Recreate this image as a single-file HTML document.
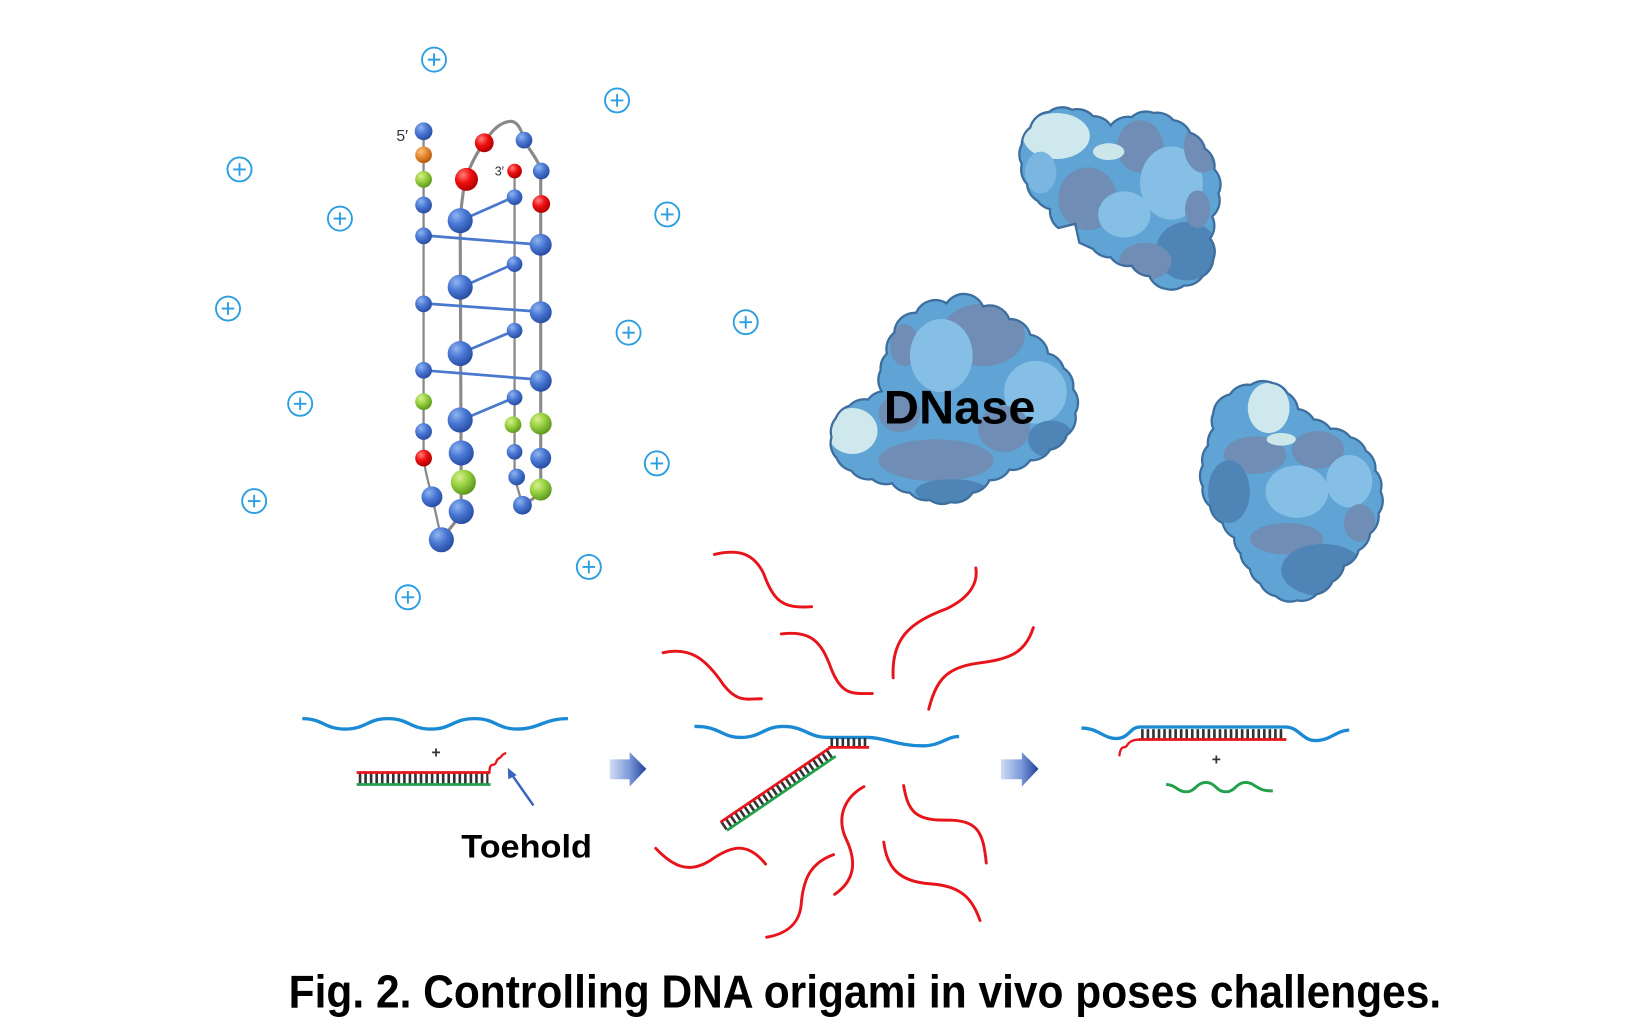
<!DOCTYPE html>
<html><head><meta charset="utf-8">
<style>
html,body{margin:0;padding:0;background:#fff;}
svg{display:block;}
</style></head>
<body>
<svg width="1641" height="1034" viewBox="0 0 1569 988.5" preserveAspectRatio="none" xmlns="http://www.w3.org/2000/svg">
<defs>
<radialGradient id="gb" cx="35%" cy="30%" r="70%"><stop offset="0" stop-color="#8fb4f0"/><stop offset="0.5" stop-color="#4a78d4"/><stop offset="1" stop-color="#2a4fa6"/></radialGradient>
<radialGradient id="gr" cx="35%" cy="30%" r="70%"><stop offset="0" stop-color="#ff8080"/><stop offset="0.5" stop-color="#f01010"/><stop offset="1" stop-color="#b00000"/></radialGradient>
<radialGradient id="gg" cx="35%" cy="30%" r="70%"><stop offset="0" stop-color="#d8f090"/><stop offset="0.5" stop-color="#98d040"/><stop offset="1" stop-color="#5f9a20"/></radialGradient>
<radialGradient id="go" cx="35%" cy="30%" r="70%"><stop offset="0" stop-color="#f8c080"/><stop offset="0.5" stop-color="#e88a30"/><stop offset="1" stop-color="#b85a10"/></radialGradient>
<linearGradient id="ga" x1="0" y1="0" x2="1" y2="0"><stop offset="0" stop-color="#d0dcf4"/><stop offset="0.55" stop-color="#7a98d8"/><stop offset="1" stop-color="#1f3f98"/></linearGradient>
<clipPath id="c1"><path id="p1" d="M985,122 A20,20 0 0 1 1003,107 A20,20 0 0 1 1025,105 A20,20 0 0 1 1045,111 A20,20 0 0 1 1062,120 A20,20 0 0 1 1082,112 A20,20 0 0 1 1103,108 A20,20 0 0 1 1122,115 A20,20 0 0 1 1138,127 A20,20 0 0 1 1152,142 A20,20 0 0 1 1161,162 A20,20 0 0 1 1165,185 A20,20 0 0 1 1159,207 A20,20 0 0 1 1157,228 A20,20 0 0 1 1160,248 A20,20 0 0 1 1150,264 A20,20 0 0 1 1132,273 A20,20 0 0 1 1114,276 A20,20 0 0 1 1099,264 A20,20 0 0 1 1082,254 A20,20 0 0 1 1062,246 A20,20 0 0 1 1045,238 L1032,232 L1028,214 L1012,218 A20,20 0 0 1 1004,200 A20,20 0 0 1 992,192 A20,20 0 0 1 982,176 A20,20 0 0 1 977,157 A20,20 0 0 1 977,138 A20,20 0 0 1 985,122 Z"/></clipPath>
<clipPath id="c2"><path id="p2" d="M855,318 A20,20 0 0 1 876,299 A20,20 0 0 1 905,290 A20,20 0 0 1 940,293 A20,20 0 0 1 965,305 A20,20 0 0 1 985,320 A20,20 0 0 1 1002,338 A20,20 0 0 1 1017,352 A20,20 0 0 1 1026,372 A20,20 0 0 1 1028,395 A20,20 0 0 1 1020,416 A20,20 0 0 1 1004,430 A20,20 0 0 1 985,440 A20,20 0 0 1 965,449 A20,20 0 0 1 946,459 A20,20 0 0 1 930,471 A20,20 0 0 1 909,480 A20,20 0 0 1 889,478 A20,20 0 0 1 870,471 A20,20 0 0 1 853,462 A20,20 0 0 1 834,458 A20,20 0 0 1 814,450 A20,20 0 0 1 800,438 A20,20 0 0 1 795,418 A20,20 0 0 1 799,400 A20,20 0 0 1 812,388 A20,20 0 0 1 830,382 A20,20 0 0 1 843,374 A20,20 0 0 1 842,354 A20,20 0 0 1 848,338 A20,20 0 0 1 855,318 Z"/></clipPath>
<clipPath id="c3"><path id="p3" d="M1160,395 A20,20 0 0 1 1176,377 A20,20 0 0 1 1196,368 A20,20 0 0 1 1216,366 A20,20 0 0 1 1231,376 A20,20 0 0 1 1241,391 A20,20 0 0 1 1256,401 A20,20 0 0 1 1272,410 A20,20 0 0 1 1291,418 A20,20 0 0 1 1306,431 A20,20 0 0 1 1315,450 A20,20 0 0 1 1320,470 A20,20 0 0 1 1318,491 A20,20 0 0 1 1310,510 A20,20 0 0 1 1299,526 A20,20 0 0 1 1285,541 A20,20 0 0 1 1274,556 A20,20 0 0 1 1259,568 A20,20 0 0 1 1240,574 A20,20 0 0 1 1220,570 A20,20 0 0 1 1205,558 A20,20 0 0 1 1195,544 A20,20 0 0 1 1186,529 A20,20 0 0 1 1180,514 A20,20 0 0 1 1169,500 A20,20 0 0 1 1157,484 A20,20 0 0 1 1150,465 A20,20 0 0 1 1150,445 A20,20 0 0 1 1155,426 A20,20 0 0 1 1160,410 A20,20 0 0 1 1160,395 Z"/></clipPath>
</defs>

<!-- plus ions -->
<g fill="none" stroke="#2a9ee0" stroke-width="1.8">
<g transform="translate(415,57)"><circle r="11.5"/><path d="M-6,0H6M0,-6V6"/></g>
<g transform="translate(590,96)"><circle r="11.5"/><path d="M-6,0H6M0,-6V6"/></g>
<g transform="translate(229,162)"><circle r="11.5"/><path d="M-6,0H6M0,-6V6"/></g>
<g transform="translate(325,209)"><circle r="11.5"/><path d="M-6,0H6M0,-6V6"/></g>
<g transform="translate(638,205)"><circle r="11.5"/><path d="M-6,0H6M0,-6V6"/></g>
<g transform="translate(218,295)"><circle r="11.5"/><path d="M-6,0H6M0,-6V6"/></g>
<g transform="translate(713,308)"><circle r="11.5"/><path d="M-6,0H6M0,-6V6"/></g>
<g transform="translate(601,318)"><circle r="11.5"/><path d="M-6,0H6M0,-6V6"/></g>
<g transform="translate(287,386)"><circle r="11.5"/><path d="M-6,0H6M0,-6V6"/></g>
<g transform="translate(628,443)"><circle r="11.5"/><path d="M-6,0H6M0,-6V6"/></g>
<g transform="translate(243,479)"><circle r="11.5"/><path d="M-6,0H6M0,-6V6"/></g>
<g transform="translate(563,542)"><circle r="11.5"/><path d="M-6,0H6M0,-6V6"/></g>
<g transform="translate(390,571)"><circle r="11.5"/><path d="M-6,0H6M0,-6V6"/></g>
</g>

<!-- DNA structure backbone -->
<g fill="none" stroke="#8a8a8a" stroke-width="2.2">
<path d="M405,125 L405,438 C407,455 411,465 413,475 C417,492 420,505 422,516"/>
<path d="M422,516 C430,505 438,497 441,489 L440,211 C441,195 443,182 445,171 C451,155 457,144 463,137 C471,122 481,116 489,116 C496,117 499,126 501,134 C507,145 515,153 517,163 L517,467 C513,476 506,480 499,481" stroke-width="3"/>
<path d="M492,163 L492,455 C494,465 497,473 499,481"/>
</g>
<g stroke="#4a78cc" stroke-width="2.6">
<line x1="405" y1="225" x2="517" y2="234"/>
<line x1="405" y1="290" x2="517" y2="298"/>
<line x1="405" y1="354" x2="517" y2="363"/>
<line x1="492" y1="188" x2="440" y2="211"/>
<line x1="492" y1="252" x2="440" y2="275"/>
<line x1="492" y1="316" x2="440" y2="338"/>
<line x1="492" y1="380" x2="440" y2="402"/>
</g>
<!-- balls -->
<g>
<circle cx="405" cy="125.5" r="8.5" fill="url(#gb)"/>
<circle cx="405" cy="148" r="8" fill="url(#go)"/>
<circle cx="405" cy="171.5" r="8" fill="url(#gg)"/>
<circle cx="405" cy="196" r="8" fill="url(#gb)"/>
<circle cx="405" cy="225.5" r="8" fill="url(#gb)"/>
<circle cx="405" cy="290.5" r="8" fill="url(#gb)"/>
<circle cx="405" cy="354" r="8" fill="url(#gb)"/>
<circle cx="405" cy="384" r="8" fill="url(#gg)"/>
<circle cx="405" cy="412.5" r="8" fill="url(#gb)"/>
<circle cx="405" cy="438" r="8" fill="url(#gr)"/>
<circle cx="413" cy="475" r="10" fill="url(#gb)"/>
<circle cx="422" cy="516" r="12" fill="url(#gb)"/>
<circle cx="446" cy="171.5" r="11" fill="url(#gr)"/>
<circle cx="440" cy="211" r="12" fill="url(#gb)"/>
<circle cx="440" cy="274.5" r="12" fill="url(#gb)"/>
<circle cx="440" cy="338" r="12" fill="url(#gb)"/>
<circle cx="440" cy="401.5" r="12" fill="url(#gb)"/>
<circle cx="441" cy="433" r="12" fill="url(#gb)"/>
<circle cx="443" cy="461" r="12" fill="url(#gg)"/>
<circle cx="441" cy="489" r="12" fill="url(#gb)"/>
<circle cx="463" cy="136.5" r="9" fill="url(#gr)"/>
<circle cx="501" cy="134" r="8" fill="url(#gb)"/>
<circle cx="517.5" cy="163.5" r="8" fill="url(#gb)"/>
<circle cx="517.5" cy="195" r="8.5" fill="url(#gr)"/>
<circle cx="492" cy="163.5" r="7" fill="url(#gr)"/>
<circle cx="492" cy="188.5" r="7.5" fill="url(#gb)"/>
<circle cx="492" cy="252.5" r="7.5" fill="url(#gb)"/>
<circle cx="492" cy="316" r="7.5" fill="url(#gb)"/>
<circle cx="492" cy="380" r="7.5" fill="url(#gb)"/>
<circle cx="490.5" cy="406" r="8" fill="url(#gg)"/>
<circle cx="492" cy="432" r="7.5" fill="url(#gb)"/>
<circle cx="494" cy="456" r="8" fill="url(#gb)"/>
<circle cx="499.5" cy="483" r="9" fill="url(#gb)"/>
<circle cx="517" cy="234" r="10.5" fill="url(#gb)"/>
<circle cx="517" cy="298.5" r="10.5" fill="url(#gb)"/>
<circle cx="517" cy="364" r="10.5" fill="url(#gb)"/>
<circle cx="517" cy="405" r="10.5" fill="url(#gg)"/>
<circle cx="517" cy="438" r="10" fill="url(#gb)"/>
<circle cx="517" cy="468" r="10.5" fill="url(#gg)"/>
</g>
<text x="379" y="135" font-family="Liberation Sans, sans-serif" font-size="15" fill="#333" text-anchor="start">5′</text>
<text x="473" y="168" font-family="Liberation Sans, sans-serif" font-size="12" fill="#333">3′</text>

<!-- Protein 1 -->
<g>
<use href="#p1" fill="#5fa4d4"/>
<g clip-path="url(#c1)">
<ellipse cx="1010" cy="130" rx="32" ry="22" fill="#cfe8ee"/>
<ellipse cx="1040" cy="190" rx="28" ry="30" fill="#6f8db5"/>
<ellipse cx="1090" cy="140" rx="22" ry="25" fill="#6f8db5"/>
<ellipse cx="1120" cy="175" rx="30" ry="35" fill="#85bfe6"/>
<ellipse cx="1075" cy="205" rx="25" ry="22" fill="#85bfe6"/>
<ellipse cx="1135" cy="240" rx="30" ry="28" fill="#4f85b6"/>
<ellipse cx="1095" cy="250" rx="25" ry="18" fill="#6f8db5"/>
<ellipse cx="1150" cy="140" rx="18" ry="25" fill="#6f8db5"/>
<ellipse cx="1060" cy="145" rx="15" ry="8" fill="#cde6ea"/>
<ellipse cx="995" cy="165" rx="15" ry="20" fill="#7ab6e0"/>
<ellipse cx="1145" cy="200" rx="12" ry="18" fill="#6f8db5"/>
</g>
<use href="#p1" fill="none" stroke="#3d6e9e" stroke-width="2.2"/>
</g>

<!-- Protein 2 (DNase) -->
<g>
<use href="#p2" fill="#5fa4d4"/>
<g clip-path="url(#c2)">
<ellipse cx="940" cy="320" rx="40" ry="30" fill="#6f8db5"/>
<ellipse cx="865" cy="330" rx="14" ry="20" fill="#6f8db5"/>
<ellipse cx="900" cy="340" rx="30" ry="35" fill="#85bfe6"/>
<ellipse cx="990" cy="375" rx="30" ry="30" fill="#85bfe6"/>
<ellipse cx="815" cy="412" rx="24" ry="22" fill="#cfe8ee"/>
<ellipse cx="895" cy="440" rx="55" ry="20" fill="#6f8db5"/>
<ellipse cx="960" cy="410" rx="25" ry="22" fill="#6f8db5"/>
<ellipse cx="860" cy="395" rx="20" ry="18" fill="#6f8db5"/>
<ellipse cx="1005" cy="420" rx="22" ry="18" fill="#4f85b6"/>
<ellipse cx="910" cy="470" rx="35" ry="12" fill="#4f85b6"/>
</g>
<use href="#p2" fill="none" stroke="#3d6e9e" stroke-width="2.2"/>
</g>

<!-- Protein 3 -->
<g>
<use href="#p3" fill="#5fa4d4"/>
<g clip-path="url(#c3)">
<ellipse cx="1213" cy="390" rx="20" ry="24" fill="#cfe8ee"/>
<ellipse cx="1200" cy="435" rx="30" ry="18" fill="#6f8db5"/>
<ellipse cx="1260" cy="430" rx="25" ry="18" fill="#6f8db5"/>
<ellipse cx="1240" cy="470" rx="30" ry="25" fill="#85bfe6"/>
<ellipse cx="1290" cy="460" rx="22" ry="25" fill="#85bfe6"/>
<ellipse cx="1175" cy="470" rx="20" ry="30" fill="#4f85b6"/>
<ellipse cx="1230" cy="515" rx="35" ry="15" fill="#6f8db5"/>
<ellipse cx="1265" cy="545" rx="40" ry="25" fill="#4f85b6"/>
<ellipse cx="1225" cy="420" rx="14" ry="6" fill="#cde6ea"/>
<ellipse cx="1300" cy="500" rx="15" ry="18" fill="#6f8db5"/>
</g>
<use href="#p3" fill="none" stroke="#3d6e9e" stroke-width="2.2"/>
</g>

<text x="845" y="405" font-family="Liberation Sans, Arial, sans-serif" font-weight="bold" font-size="45" fill="#000" textLength="145" lengthAdjust="spacingAndGlyphs">DNase</text>

<!-- Left: blue strand + duplex -->
<path d="M289,687 C309,687 310,697 330,697 C350,697 351,687 371,687 C391,687 392,697 412,697 C432,697 433,687 454,687 C474,687 475,697 495,697 C515,697 520,687 543,687" fill="none" stroke="#1a8ad4" stroke-width="3.2"/>
<text x="417" y="724" font-family="Liberation Sans, sans-serif" font-size="15" font-weight="bold" fill="#333" text-anchor="middle">+</text>
<line x1="343" y1="744" x2="467" y2="744" stroke="#333" stroke-width="11" stroke-dasharray="2.5 2.8"/>
<line x1="341" y1="738.5" x2="469" y2="738.5" stroke="#e8141c" stroke-width="2.6"/>
<line x1="341" y1="750" x2="469" y2="750" stroke="#22a04a" stroke-width="2.6"/>
<path d="M468,738.5 C468,733 469,731 472,731 C475,731 474,726 477,725 C480,724 479,721 484,720" fill="none" stroke="#e8141c" stroke-width="2.2"/>
<line x1="510" y1="770" x2="489" y2="740" stroke="#3a64c0" stroke-width="2.4"/>
<path d="M485.5,734 L494,741 L486,745 Z" fill="#3a64c0"/>
<text x="441" y="820" font-family="Liberation Sans, Arial, sans-serif" font-weight="bold" font-size="31" fill="#000" textLength="125" lengthAdjust="spacingAndGlyphs">Toehold</text>

<!-- Arrows -->
<path d="M583,726 L602,726 L602,719 L618,735 L602,752 L602,745 L583,745 Z" fill="url(#ga)"/>
<path d="M957,726 L977,726 L977,719 L993,735 L977,752 L977,745 L957,745 Z" fill="url(#ga)"/>

<!-- Middle -->
<g fill="none" stroke="#e8141c" stroke-width="2.8" stroke-linecap="round">
<path d="M683,530 C705,525 720,528 730,548 C740,575 748,582 776,580"/>
<path d="M747,606 C775,603 785,612 795,640 C805,665 815,663 834,663"/>
<path d="M634,624 C660,618 675,630 692,655 C705,672 715,668 728,668"/>
<path d="M854,648 C852,610 870,595 905,582 C930,570 935,555 933,543"/>
<path d="M888,678 C895,650 905,638 935,634 C965,630 980,625 988,600"/>
<path d="M627,811 C645,830 660,835 680,822 C700,808 715,805 732,826"/>
<path d="M826,752 C808,762 800,780 808,800 C818,820 820,840 798,855"/>
<path d="M864,751 C868,775 875,785 905,784 C935,784 940,795 943,825"/>
<path d="M797,817 C775,825 768,840 766,865 C764,885 750,893 733,896"/>
<path d="M845,805 C848,830 860,843 890,845 C920,847 930,860 937,880"/>
</g>
<path d="M664,694.5 C688,694 690,705 708,705 C728,705 730,694.5 749,694.5 C770,694.5 772,705 792,705 L830,705 C845,705 858,713 882,713 C900,713 905,704 917,704" fill="none" stroke="#1a8ad4" stroke-width="3.2"/>
<line x1="794" y1="709.5" x2="830" y2="709.5" stroke="#333" stroke-width="8" stroke-dasharray="2.5 2.8"/>
<line x1="792" y1="714.5" x2="831" y2="714.5" stroke="#e8141c" stroke-width="2.6"/>
<line x1="794" y1="720" x2="691" y2="790" stroke="#333" stroke-width="9" stroke-dasharray="2.5 2.8"/>
<line x1="794" y1="714.5" x2="689" y2="786" stroke="#e8141c" stroke-width="2.6"/>
<line x1="799" y1="723" x2="695" y2="794" stroke="#22a04a" stroke-width="2.6"/>

<!-- Right -->
<path d="M1034,696 C1050,696 1055,706 1067,706 C1080,706 1080,695 1090,695 L1229,695 C1242,695 1245,708 1258,708 C1272,708 1278,698 1290,698" fill="none" stroke="#1a8ad4" stroke-width="3.2"/>
<line x1="1091" y1="701.5" x2="1228" y2="701.5" stroke="#333" stroke-width="9" stroke-dasharray="2.5 2.8"/>
<line x1="1089" y1="707" x2="1230" y2="707" stroke="#e8141c" stroke-width="2.6"/>
<path d="M1090,707 C1083,707 1080,709 1078,712 C1076,716 1074,713 1072,716 C1070,719 1071,721 1070,723" fill="none" stroke="#e8141c" stroke-width="2.2"/>
<text x="1163" y="731" font-family="Liberation Sans, sans-serif" font-size="15" font-weight="bold" fill="#333" text-anchor="middle">+</text>
<path d="M1115,750 C1124,750 1126,757 1134,757 C1143,757 1144,748 1153,748 C1162,748 1163,757 1172,757 C1181,757 1182,748 1191,748 C1200,748 1202,757 1217,756" fill="none" stroke="#22a04a" stroke-width="2.8"/>

<!-- Caption -->
<text x="276" y="963" font-family="Liberation Sans, Arial, sans-serif" font-weight="bold" font-size="44" fill="#000" textLength="1102" lengthAdjust="spacingAndGlyphs">Fig. 2. Controlling DNA origami in vivo poses challenges.</text>
</svg>
</body></html>
